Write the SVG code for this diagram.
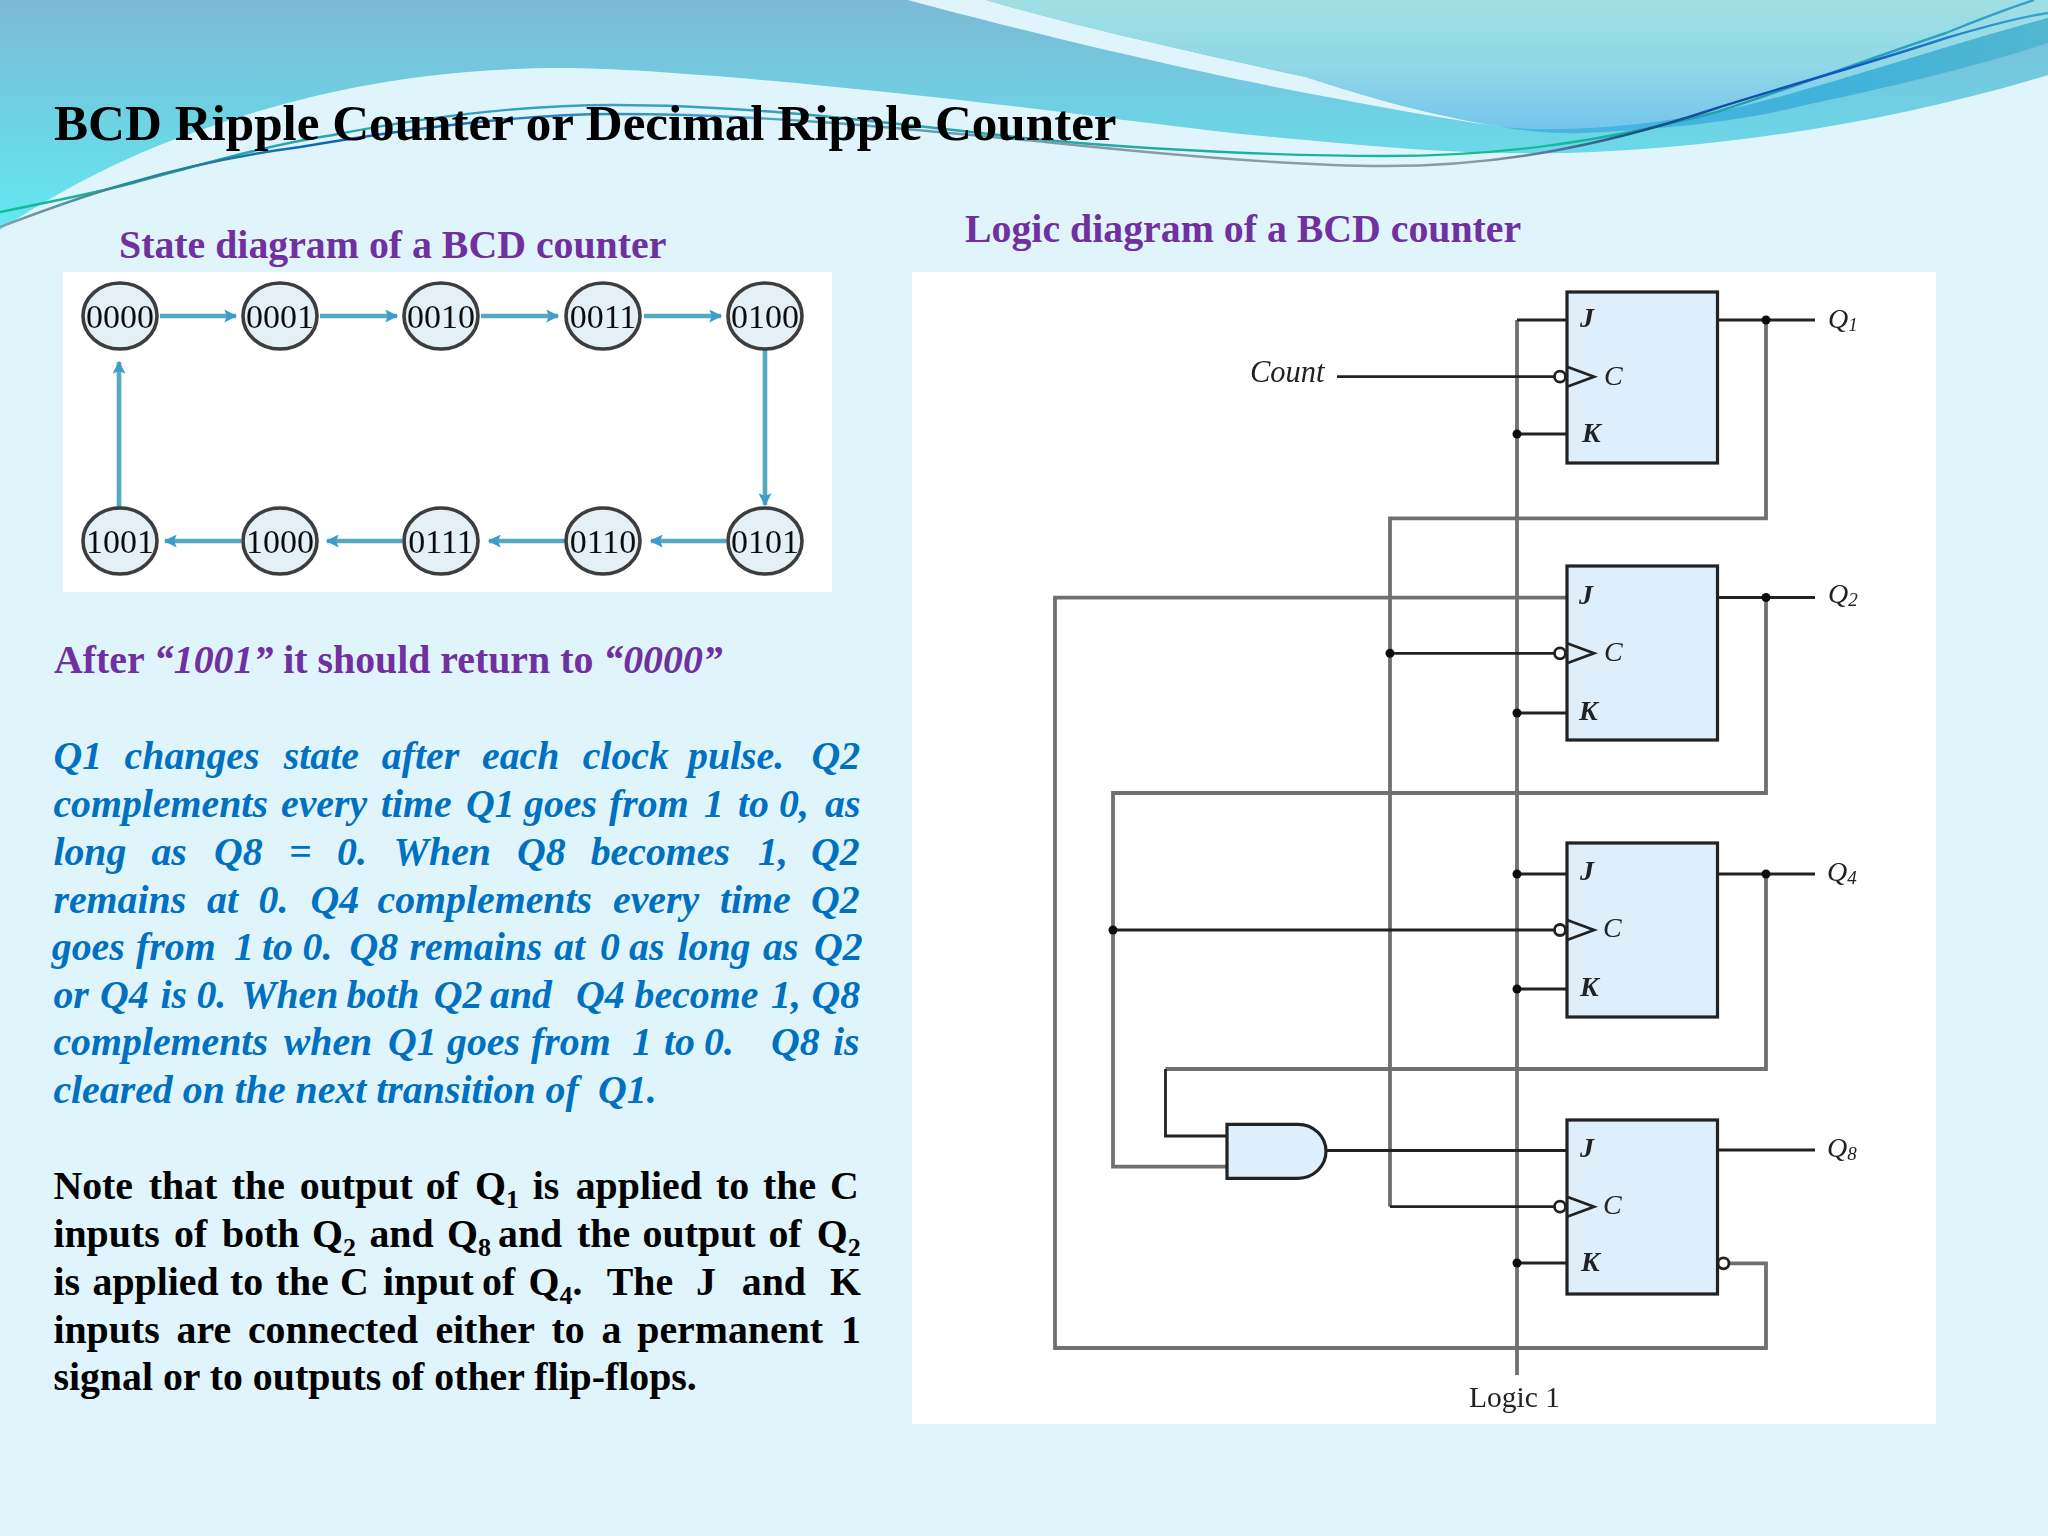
<svg xmlns="http://www.w3.org/2000/svg" width="2048" height="1536" viewBox="0 0 2048 1536">
<style>
text{font-family:"Liberation Serif","Times New Roman",serif}
.title{font-size:51.1px;font-weight:bold;fill:#000}
.h{font-size:39.82px;font-weight:bold;fill:#7030A0}
.b{font-size:39.82px;font-weight:bold;fill:#000}
.bl{font-size:39.82px;font-weight:bold;font-style:italic;fill:#0070C0}
.i{font-style:italic}
.sub{font-size:26px}
.st{fill:#E4EFF6;stroke:#3c3c3c;stroke-width:3.6}
.sn{font-size:34px;fill:#111;text-anchor:middle}
.arr{stroke:#55A8C2;stroke-width:4.6;fill:none;marker-end:url(#ah)}
.w{fill:none;stroke:#707070;stroke-width:3.8}
.d{fill:none;stroke:#222;stroke-width:2.8}
.ff{fill:#DFEEFB;stroke:#222;stroke-width:3.2}
.tri{fill:none;stroke:#222;stroke-width:2.8}
.bub{fill:#fff;stroke:#222;stroke-width:2.8}
.dot{fill:#111}
.lab{font-size:28px;font-style:italic;fill:#222}
.hv{font-weight:bold;fill:#222}
.qs{font-size:19px;font-style:italic}
.log{font-size:29.5px;fill:#222}
</style>
<defs>
<linearGradient id="band" x1="0" y1="0" x2="0" y2="230" gradientUnits="userSpaceOnUse"><stop offset="0" stop-color="#7CB9D6"/><stop offset="0.45" stop-color="#70CFE2"/><stop offset="1" stop-color="#62E8F1"/></linearGradient>
<linearGradient id="inner" x1="0" y1="0" x2="0" y2="128" gradientUnits="userSpaceOnUse"><stop offset="0" stop-color="#A0E0E4"/><stop offset="0.5" stop-color="#90D8E6"/><stop offset="1" stop-color="#76C6EC"/></linearGradient>
<linearGradient id="swoosh" x1="1500" y1="0" x2="2048" y2="0" gradientUnits="userSpaceOnUse"><stop offset="0" stop-color="#4BB4E2"/><stop offset="0.6" stop-color="#40B2DC"/><stop offset="1" stop-color="#52B6CE"/></linearGradient>
<linearGradient id="l1" x1="0" y1="0" x2="2048" y2="0" gradientUnits="userSpaceOnUse"><stop offset="0" stop-color="#12BE95"/><stop offset="0.1" stop-color="#1FA8A8"/><stop offset="0.3" stop-color="#3A9FC8"/><stop offset="0.52" stop-color="#20A8A8"/><stop offset="0.75" stop-color="#12BE95"/><stop offset="0.85" stop-color="#1FA0B0"/><stop offset="1" stop-color="#3AA0C8"/></linearGradient>
<linearGradient id="l2" x1="0" y1="0" x2="2048" y2="0" gradientUnits="userSpaceOnUse"><stop offset="0" stop-color="#8A9AA5"/><stop offset="0.06" stop-color="#308890"/><stop offset="0.17" stop-color="#0E5FC0"/><stop offset="0.35" stop-color="#40A0C8"/><stop offset="0.55" stop-color="#8C9AA5"/><stop offset="0.72" stop-color="#8C9AA5"/><stop offset="0.8" stop-color="#1A4E88"/><stop offset="0.9" stop-color="#0F55C4"/><stop offset="1" stop-color="#3AA8D4"/></linearGradient>
<marker id="ah" viewBox="0 0 10 10" refX="9" refY="5" markerWidth="18" markerHeight="13" markerUnits="userSpaceOnUse" orient="auto"><path d="M0,0L10,5L0,10L2,5Z" fill="#3D9CC9"/></marker>
<filter id="soft" x="-5%" y="-5%" width="110%" height="110%"><feGaussianBlur stdDeviation="0.6"/></filter>
</defs>

<rect width="2048" height="1536" fill="#E0F5FB"/>
<path fill="url(#band)" d="M0,230 C60,190 120,160 173,140 C280,100 400,68 562,68 C660,68 880,90 1045,110 C1150,123 1230,134 1306,140 C1400,149 1480,155 1567,153 C1730,148 1900,120 2048,75 V0 H0 Z"/>
<path fill="#E0F5FB" d="M908,0 C1000,25 1160,65 1306,93 C1380,107 1440,118 1502,127 C1430,115 1370,98 1306,77 C1190,52 1070,25 986,0 Z"/>
<path fill="url(#inner)" d="M986,0 C1070,25 1190,52 1306,77 C1370,98 1430,115 1502,127 C1570,133 1650,125 1717,112 C1800,95 1930,50 2048,18 V0 Z"/>
<path fill="url(#swoosh)" d="M1502,127 C1570,133 1650,125 1717,112 C1800,95 1930,50 2048,18 V43 C1950,75 1850,95 1793,108 C1720,125 1640,130 1584,133 C1550,134 1525,131 1502,127 Z"/>
<path fill="none" stroke="url(#l1)" stroke-width="2.4" d="M0,212 C50,202 95,193 133,183 C200,165 267,145 333,135 C420,118 520,105 614,105 C760,105 900,125 1045,140 C1150,150 1290,156 1384,156 C1490,156 1590,145 1717,112 C1800,85 1880,55 1946,33 C1985,17 2010,8 2034,0"/>
<path fill="none" stroke="url(#l2)" stroke-width="2.4" d="M0,227 C50,208 95,192 133,182 C190,165 240,155 300,147 C400,130 520,114 614,114 C760,114 900,128 1045,142 C1150,153 1290,166 1384,166 C1490,166 1590,150 1717,108 C1790,85 1880,60 1946,38 C1990,25 2020,17 2048,13"/>

<text class="title" x="54" y="140">BCD Ripple Counter or Decimal Ripple Counter</text>
<text class="h" x="119" y="257.500">State diagram of a BCD counter</text>
<text class="h" x="965" y="242">Logic diagram of a BCD counter</text>

<rect x="63" y="272" width="769" height="320" fill="#fff"/>
<g id="state-connectors" filter="url(#soft)">
<path class="arr" d="M160,316H236"/><path class="arr" d="M320,316H397"/><path class="arr" d="M481,316H558"/><path class="arr" d="M644,316H721"/>
<path class="arr" d="M765,350V505"/>
<path class="arr" d="M726,541H651"/><path class="arr" d="M565,541H489"/><path class="arr" d="M402,541H327"/><path class="arr" d="M241,541H165"/>
<path class="arr" d="M119,507V362"/>
</g>
<g filter="url(#soft)">
<g id="s0000"><ellipse class="st" cx="120" cy="316" rx="37" ry="33"/><text class="sn" x="120" y="328">0000</text></g>
<g id="s0001"><ellipse class="st" cx="280" cy="316" rx="37" ry="33"/><text class="sn" x="280" y="328">0001</text></g>
<g id="s0010"><ellipse class="st" cx="441" cy="316" rx="37" ry="33"/><text class="sn" x="441" y="328">0010</text></g>
<g id="s0011"><ellipse class="st" cx="603" cy="316" rx="37" ry="33"/><text class="sn" x="603" y="328">0011</text></g>
<g id="s0100"><ellipse class="st" cx="765" cy="316" rx="37" ry="33"/><text class="sn" x="765" y="328">0100</text></g>
<g id="s1001"><ellipse class="st" cx="120" cy="541" rx="37" ry="33"/><text class="sn" x="120" y="553">1001</text></g>
<g id="s1000"><ellipse class="st" cx="280" cy="541" rx="37" ry="33"/><text class="sn" x="280" y="553">1000</text></g>
<g id="s0111"><ellipse class="st" cx="441" cy="541" rx="37" ry="33"/><text class="sn" x="441" y="553">0111</text></g>
<g id="s0110"><ellipse class="st" cx="603" cy="541" rx="37" ry="33"/><text class="sn" x="603" y="553">0110</text></g>
<g id="s0101"><ellipse class="st" cx="765" cy="541" rx="37" ry="33"/><text class="sn" x="765" y="553">0101</text></g>
</g>

<text class="h" x="54" y="673">After <tspan class="i">“1001”</tspan> it should return to <tspan class="i">“0000”</tspan></text>

<g id="para-blue">
<text class="bl" y="769"><tspan x="53.4">Q1 </tspan><tspan x="124.6">changes </tspan><tspan x="283.7">state </tspan><tspan x="381.8">after </tspan><tspan x="482">each </tspan><tspan x="582.7">clock </tspan><tspan x="688">pulse. </tspan><tspan x="811.4">Q2</tspan></text>
<text class="bl" y="817"><tspan x="53.4">complements </tspan><tspan x="281">every </tspan><tspan x="381">time </tspan><tspan x="466">Q1 </tspan><tspan x="524">goes </tspan><tspan x="609">from </tspan><tspan x="704">1 </tspan><tspan x="738">to </tspan><tspan x="779">0, </tspan><tspan x="825">as</tspan></text>
<text class="bl" y="865"><tspan x="53.4">long </tspan><tspan x="151.4">as </tspan><tspan x="214">Q8 </tspan><tspan x="289">= </tspan><tspan x="337">0. </tspan><tspan x="393.6">When </tspan><tspan x="517">Q8 </tspan><tspan x="590.7">becomes </tspan><tspan x="758">1, </tspan><tspan x="811">Q2</tspan></text>
<text class="bl" y="913"><tspan x="53.4">remains </tspan><tspan x="207">at </tspan><tspan x="258.6">0. </tspan><tspan x="310.5">Q4 </tspan><tspan x="377.5">complements </tspan><tspan x="613">every </tspan><tspan x="720">time </tspan><tspan x="811">Q2</tspan></text>
<text class="bl" y="960"><tspan x="51.8">goes </tspan><tspan x="136">from </tspan><tspan x="234">1 </tspan><tspan x="262">to </tspan><tspan x="302.5">0. </tspan><tspan x="349.6">Q8 </tspan><tspan x="409.6">remains </tspan><tspan x="554">at </tspan><tspan x="600">0 </tspan><tspan x="629">as </tspan><tspan x="677.5">long </tspan><tspan x="763">as </tspan><tspan x="814">Q2</tspan></text>
<text class="bl" y="1008"><tspan x="53.4">or </tspan><tspan x="100">Q4 </tspan><tspan x="160.5">is </tspan><tspan x="196.4">0. </tspan><tspan x="241">When </tspan><tspan x="346.4">both </tspan><tspan x="433.7">Q2 </tspan><tspan x="490">and </tspan><tspan x="576">Q4 </tspan><tspan x="634.6">become </tspan><tspan x="771">1, </tspan><tspan x="811.4">Q8</tspan></text>
<text class="bl" y="1055"><tspan x="53.4">complements </tspan><tspan x="283.7">when </tspan><tspan x="388">Q1 </tspan><tspan x="447">goes </tspan><tspan x="531">from </tspan><tspan x="632">1 </tspan><tspan x="664">to </tspan><tspan x="704">0. </tspan><tspan x="771">Q8 </tspan><tspan x="833">is</tspan></text>
<text class="bl" y="1103"><tspan x="53.4">cleared on the next transition of </tspan><tspan x="598">Q1.</tspan></text>
</g>

<g id="para-note">
<text class="b" y="1199"><tspan x="53.4">Note </tspan><tspan x="148.7">that </tspan><tspan x="231.8">the </tspan><tspan x="299.8">output </tspan><tspan x="425.7">of </tspan><tspan x="475">Q</tspan><tspan class="sub" dy="9">1</tspan><tspan dy="-9" x="532.8">is </tspan><tspan x="575.7">applied </tspan><tspan x="716">to </tspan><tspan x="763">the </tspan><tspan x="830">C</tspan></text>
<text class="b" y="1247"><tspan x="53.4">inputs </tspan><tspan x="174">of </tspan><tspan x="222">both </tspan><tspan x="312">Q</tspan><tspan class="sub" dy="9">2</tspan><tspan dy="-9" x="369.4">and </tspan><tspan x="447">Q</tspan><tspan class="sub" dy="9">8</tspan><tspan dy="-9" x="498">and </tspan><tspan x="577">the </tspan><tspan x="642.6">output </tspan><tspan x="768.4">of </tspan><tspan x="816.7">Q</tspan><tspan class="sub" dy="9">2</tspan></text>
<text class="b" y="1295"><tspan x="53.4">is </tspan><tspan x="92.5">applied </tspan><tspan x="230">to </tspan><tspan x="275.7">the </tspan><tspan x="340">C </tspan><tspan x="383">input </tspan><tspan x="482">of </tspan><tspan x="528.6">Q</tspan><tspan class="sub" dy="9">4</tspan><tspan dy="-9">. </tspan><tspan x="606.7">The </tspan><tspan x="696">J </tspan><tspan x="741.8">and </tspan><tspan x="830">K</tspan></text>
<text class="b" y="1343"><tspan x="53.4">inputs </tspan><tspan x="176.6">are </tspan><tspan x="247.9">connected </tspan><tspan x="435.4">either </tspan><tspan x="551.6">to </tspan><tspan x="601.4">a </tspan><tspan x="637.3">permanent </tspan><tspan x="841">1</tspan></text>
<text class="b" x="53.4" y="1390">signal or to outputs of other flip-flops.</text>
</g>

<rect x="912" y="272" width="1024" height="1152" fill="#fff"/>
<g id="connectors" filter="url(#soft)">
<path class="w" d="M1517,320V1375"/>
<path class="w" d="M1766,320V518.3H1390V1206.7"/>
<path class="w" d="M1567,597.7H1055V1348H1766V1263.3H1729"/>
<path class="w" d="M1766,597.5V793H1113V1166.7H1227"/>
<path class="w" d="M1766,874V1069H1165.5"/>
<path class="d" d="M1165.5,1069V1136H1227"/>
<path class="d" d="M1517,320H1567"/><path class="d" d="M1517,434H1567"/><path class="d" d="M1517,713H1567"/>
<path class="d" d="M1517,874H1567"/><path class="d" d="M1517,989H1567"/><path class="d" d="M1517,1263H1567"/>
<path class="d" d="M1337,376.7H1554"/><path class="d" d="M1390,653.3H1554"/><path class="d" d="M1113,930H1554"/><path class="d" d="M1390,1206.7H1554"/>
<path class="d" d="M1326,1150.5H1567"/>
<path class="d" d="M1717,320H1815"/><path class="d" d="M1717,597.5H1815"/><path class="d" d="M1717,874H1815"/><path class="d" d="M1717,1150H1815"/>
<circle class="dot" cx="1517" cy="434" r="4.5"/><circle class="dot" cx="1517" cy="713" r="4.5"/><circle class="dot" cx="1517" cy="874" r="4.5"/><circle class="dot" cx="1517" cy="989" r="4.5"/><circle class="dot" cx="1517" cy="1263" r="4.5"/>
<circle class="dot" cx="1766" cy="320" r="4.5"/><circle class="dot" cx="1766" cy="597.5" r="4.5"/><circle class="dot" cx="1766" cy="874" r="4.5"/>
<circle class="dot" cx="1390" cy="653.3" r="4.5"/><circle class="dot" cx="1113" cy="930" r="4.5"/>
</g>
<g filter="url(#soft)">
<g id="ff-q1"><rect class="ff" x="1567" y="292" width="150.500" height="171"/><path class="tri" d="M1567,366.700L1594,376.700L1567,386.700"/><circle class="bub" cx="1560" cy="376.700" r="5.500"/><text class="lab hv" x="1580" y="327">J</text><text class="lab" x="1604" y="385">C</text><text class="lab hv" x="1582" y="442">K</text></g>
<g id="ff-q2"><rect class="ff" x="1567" y="566" width="150.500" height="174"/><path class="tri" d="M1567,643.300L1594,653.300L1567,663.300"/><circle class="bub" cx="1560" cy="653.300" r="5.500"/><text class="lab hv" x="1579" y="604">J</text><text class="lab" x="1604" y="661">C</text><text class="lab hv" x="1579" y="720">K</text></g>
<g id="ff-q4"><rect class="ff" x="1567" y="843" width="150.500" height="174"/><path class="tri" d="M1567,920L1594,930L1567,940"/><circle class="bub" cx="1560" cy="930" r="5.500"/><text class="lab hv" x="1580" y="880">J</text><text class="lab" x="1603" y="937">C</text><text class="lab hv" x="1580" y="996">K</text></g>
<g id="ff-q8"><rect class="ff" x="1567" y="1120" width="150.500" height="174"/><path class="tri" d="M1567,1196.700L1594,1206.700L1567,1216.700"/><circle class="bub" cx="1560" cy="1206.700" r="5.500"/><circle class="bub" cx="1723.500" cy="1263.300" r="5.500"/><text class="lab hv" x="1580" y="1157">J</text><text class="lab" x="1603" y="1214">C</text><text class="lab hv" x="1581" y="1271">K</text></g>
<g id="and-gate"><path class="ff" d="M1227,1124.300H1298A28,27 0 0 1 1298,1178.300H1227Z"/></g>
<g id="labels">
<text class="lab" x="1250" y="382" style="font-size:30.500px">Count</text>
<text class="lab" x="1828" y="328">Q<tspan class="qs" dy="3">1</tspan></text>
<text class="lab" x="1828" y="603">Q<tspan class="qs" dy="3">2</tspan></text>
<text class="lab" x="1827" y="881">Q<tspan class="qs" dy="3">4</tspan></text>
<text class="lab" x="1827" y="1157">Q<tspan class="qs" dy="3">8</tspan></text>
<text class="log" x="1469" y="1407">Logic 1</text>
</g>
</g>
</svg>
